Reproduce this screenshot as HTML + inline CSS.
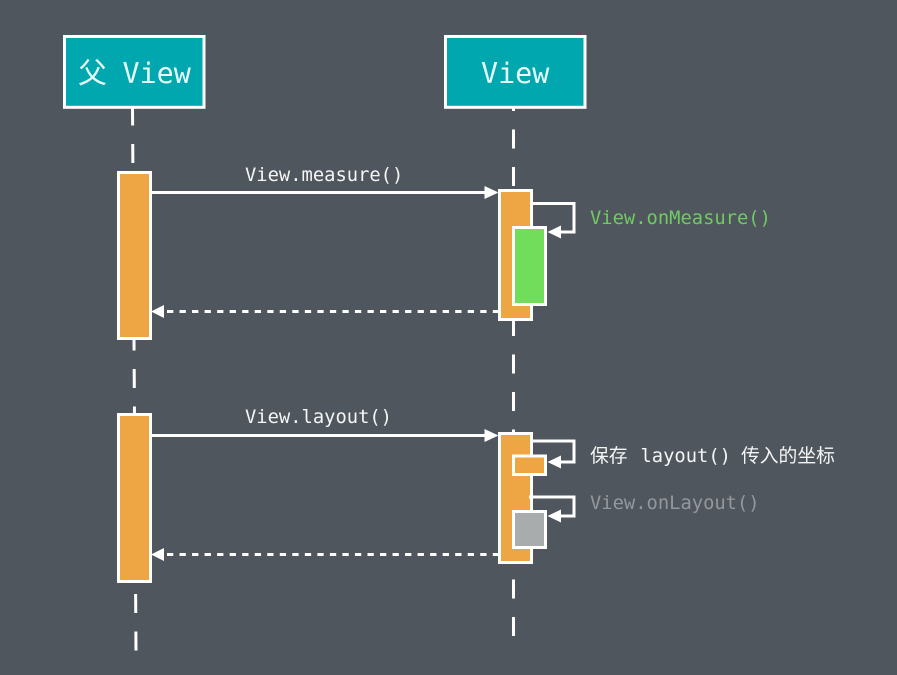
<!DOCTYPE html>
<html><head><meta charset="utf-8"><style>
html,body{margin:0;padding:0;background:#50565e}
svg{display:block}
text{font-family:"DejaVu Sans Mono","Noto Sans CJK SC",monospace;font-size:18.8px;fill:#f4f5f5}
</style></head><body>
<svg width="897" height="675" viewBox="0 0 897 675" xmlns="http://www.w3.org/2000/svg">
<rect width="897" height="675" fill="#50565e"/>
<!-- lifelines -->
<line x1="132.5" y1="106.5" x2="136" y2="651" stroke="#fff" stroke-width="3" stroke-dasharray="19 18.5"/>
<line x1="513.5" y1="92" x2="513.5" y2="637" stroke="#fff" stroke-width="3" stroke-dasharray="19 18.5"/>
<!-- header boxes -->
<rect x="64.5" y="36.5" width="139.5" height="70.8" fill="#00a7ae" stroke="#fff" stroke-width="3"/>
<rect x="445.5" y="36.5" width="139.5" height="70.8" fill="#00a7ae" stroke="#fff" stroke-width="3"/>
<text x="78" y="83" style="font-size:28.8px;fill:#e6fbfb">父</text>
<text x="122.5" y="83" style="font-size:28.4px;fill:#e6fbfb">View</text>
<text x="481" y="83" style="font-size:28.4px;fill:#e6fbfb">View</text>
<!-- left activations -->
<rect x="118.5" y="172.5" width="32" height="166" fill="#eea644" stroke="#fff" stroke-width="3"/>
<rect x="118.5" y="414.5" width="32" height="167" fill="#eea644" stroke="#fff" stroke-width="3"/>
<!-- right activations -->
<rect x="499.5" y="190.5" width="32" height="129" fill="#eea644" stroke="#fff" stroke-width="3"/>
<rect x="499.5" y="433.5" width="32" height="129" fill="#eea644" stroke="#fff" stroke-width="3"/>
<!-- calls -->
<line x1="151" y1="192.5" x2="486" y2="192.5" stroke="#fff" stroke-width="3"/>
<polygon points="498.5,192.5 484.5,186 484.5,199" fill="#fff"/>
<line x1="151" y1="435.5" x2="486" y2="435.5" stroke="#fff" stroke-width="3"/>
<polygon points="498.5,435.5 484.5,429 484.5,442" fill="#fff"/>
<!-- returns -->
<line x1="167" y1="311.5" x2="498" y2="311.5" stroke="#fff" stroke-width="3" stroke-dasharray="6.3 6.23"/>
<polygon points="151,311.5 164,305 164,318" fill="#fff"/>
<line x1="167" y1="554.5" x2="498" y2="554.5" stroke="#fff" stroke-width="3" stroke-dasharray="6.3 6.23"/>
<polygon points="151,554.5 164,548 164,561" fill="#fff"/>
<!-- self loops -->
<polyline points="532,203.5 574,203.5 574,232 560,232" fill="none" stroke="#fff" stroke-width="3"/>
<polygon points="547.5,232 561,225.5 561,238.5" fill="#fff"/>
<polyline points="532,441 574,441 574,462 560,462" fill="none" stroke="#fff" stroke-width="3"/>
<polygon points="547.5,462 561,455.5 561,468.5" fill="#fff"/>
<polyline points="529,497 574,497 574,516 560,516" fill="none" stroke="#fff" stroke-width="3"/>
<polygon points="547.5,516 561,509.5 561,522.5" fill="#fff"/>
<!-- nested activations -->
<rect x="513.5" y="227.5" width="32" height="77" fill="#72dd5a" stroke="#fff" stroke-width="3"/>
<rect x="513.5" y="456" width="32" height="18.5" fill="#eea644" stroke="#fff" stroke-width="3"/>
<rect x="513.5" y="511.5" width="32" height="36" fill="#a8acac" stroke="#fff" stroke-width="3"/>
<!-- labels -->
<text x="245" y="181">View.measure()</text>
<text x="245" y="423">View.layout()</text>
<text x="590" y="224" style="fill:#6fcb62">View.onMeasure()</text>
<text x="590" y="462"><tspan x="590">保存</tspan><tspan x="640.5">layout()</tspan><tspan x="741">传入的坐标</tspan></text>
<text x="590" y="509" style="fill:#94989c">View.onLayout()</text>
</svg>
</body></html>
